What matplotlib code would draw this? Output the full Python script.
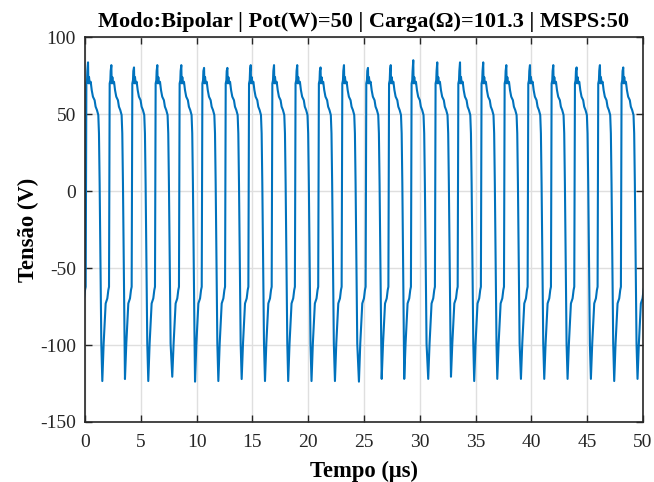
import numpy as np
import matplotlib
matplotlib.use("Agg")
import matplotlib.pyplot as plt

# trough instants (us); first one lies before t=0
trough_t = [-0.54, 1.55, 3.58, 5.67, 7.82, 9.86, 11.95, 14.04, 16.13, 18.21,
            20.30, 22.40, 24.55, 26.59, 28.61, 30.76, 32.80, 34.88, 36.95,
            39.07, 41.16, 43.25, 45.34, 47.43, 49.52]
trough_v = [-122, -123.4, -122.1, -123.4, -120.6, -123.8, -123.4, -122.1,
            -123.4, -123.4, -123.4, -123.4, -123.8, -122, -122, -122, -120.6,
            -123.4, -122, -122, -122, -122, -122, -123.4, -122]
peak_v = [83.6, 81.8, 80.3, 81.8, 81.8, 80, 80, 81.8, 81.8, 81.8, 80.3, 81.8,
          80, 81.8, 85, 83.6, 83.6, 83.6, 81.8, 81.8, 81.8, 80.3, 81.8, 80.3, 82]

# one period of the pulse, offsets (us) after the trough and voltage (V)
shape_dt = [0.00, 0.12, 0.21, 0.30, 0.45, 0.54, 0.60, 0.63, 0.66, 0.72, 0.75,
            0.81, 0.84, 0.90, 0.96, 1.05, 1.14, 1.25, 1.40, 1.49, 1.61, 1.73,
            1.79, 1.85, 1.94, 2.00]
shape_v = [None, -99, -86, -73, -69.7, -64.3, -62.2, 5, 69.9, 72, 78,
           None, 70, 74, 70, 71, 65.6, 61.3, 59, 54.8, 52.6, 49.4,
           37.5, 5, -60, -99]

title = "Modo:Bipolar | Pot(W)=50 | Carga(\u03a9)=101.3 | MSPS:50"

t = []
v = []
for k in range(len(trough_t)):
    for dt, sv in zip(shape_dt, shape_v):
        t.append(trough_t[k] + dt)
        if dt == 0.0:
            v.append(trough_v[k])
        elif sv is None:
            v.append(peak_v[k])
        else:
            v.append(sv)
t.append(trough_t[-1] + 2.086)
v.append(-122)

plt.rcParams['font.family'] = ['Liberation Serif', 'DejaVu Serif']
plt.rcParams['axes.unicode_minus'] = False

fig = plt.figure(figsize=(6.54, 4.82), dpi=100)
ax = fig.add_axes([0.130, 0.1245, 0.853, 0.7985])

ax.plot(t, v, color='#0072BD', linewidth=1.5)

ax.set_xlim(0, 50)
ax.set_ylim(-150, 100)
ax.set_xticks(np.arange(0, 51, 5))
ax.set_yticks(np.arange(-150, 101, 50))
ax.grid(True, color='#DFDFDF', linewidth=1)
ax.set_axisbelow(True)
ax.tick_params(direction='in', top=True, right=True, labelsize=14,
               colors='#262626', length=5, width=1, labelcolor='#262626')
ax.tick_params(axis='y', pad=6.5)
ax.tick_params(axis='x', pad=8.5)
for s in ax.spines.values():
    s.set_color('#262626')
    s.set_linewidth(1.2)

ax.set_xlabel("Tempo (\u03bcs)", fontsize=16.3, fontweight='bold', labelpad=7)
ax.set_ylabel("Tens\u00e3o (V)", fontsize=16.3, fontweight='bold', labelpad=1)
ax.set_title(title, fontsize=16, fontweight='bold', pad=7)

fig.savefig("out.png", dpi=100)
